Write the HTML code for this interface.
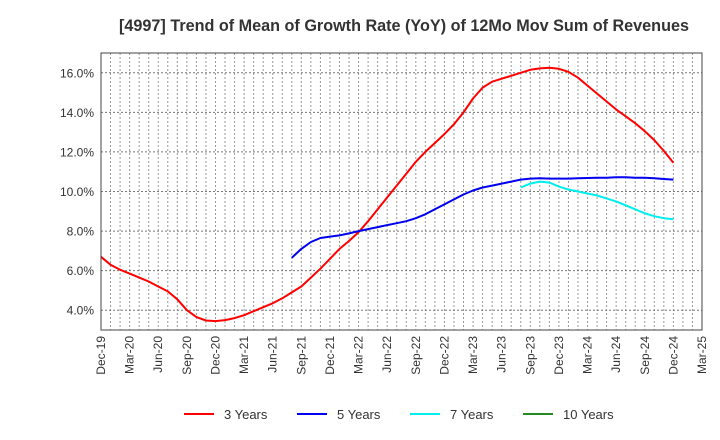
<!DOCTYPE html>
<html><head><meta charset="utf-8"><style>
body{margin:0;background:#fff;}
svg{display:block;font-family:"Liberation Sans",sans-serif;}
</style></head><body>
<svg id="chart" width="720" height="440" xmlns="http://www.w3.org/2000/svg">
<text x="404" y="31" text-anchor="middle" font-size="16.2" font-weight="bold" fill="#333">[4997]  Trend of Mean of Growth Rate (YoY) of 12Mo Mov Sum of Revenues</text>
<g id="grid"></g>
<g id="yaxis"></g>
<g id="xaxis"></g>
<g id="series"></g>
<rect x="101" y="53" width="601" height="277" fill="none" stroke="#444" stroke-width="1"/>
<g id="legend"></g>
</svg>
<script>
const xTickLabels = ["Dec-19","Mar-20","Jun-20","Sep-20","Dec-20","Mar-21","Jun-21","Sep-21","Dec-21","Mar-22","Jun-22","Sep-22","Dec-22","Mar-23","Jun-23","Sep-23","Dec-23","Mar-24","Jun-24","Sep-24","Dec-24","Mar-25"];
const yTicks = [4,6,8,10,12,14,16];
const red3 = [6.7,6.3,6.05,5.85,5.65,5.45,5.2,4.95,4.55,4.0,3.65,3.48,3.45,3.5,3.6,3.75,3.95,4.15,4.35,4.6,4.9,5.2,5.65,6.1,6.6,7.1,7.5,7.95,8.5,9.1,9.7,10.3,10.9,11.5,12.0,12.45,12.9,13.4,14.0,14.7,15.25,15.55,15.7,15.85,16.0,16.15,16.22,16.25,16.2,16.05,15.75,15.35,14.95,14.55,14.15,13.8,13.45,13.05,12.6,12.05,11.45];
const blue5Start = 20;
const blue5 = [6.65,7.1,7.45,7.65,7.72,7.78,7.88,8.0,8.1,8.2,8.3,8.4,8.5,8.65,8.85,9.1,9.35,9.6,9.85,10.05,10.2,10.3,10.4,10.5,10.6,10.65,10.67,10.65,10.65,10.65,10.67,10.68,10.7,10.7,10.72,10.72,10.7,10.7,10.67,10.63,10.6];
const cyan7Start = 44;
const cyan7 = [10.2,10.4,10.5,10.45,10.25,10.1,10.0,9.9,9.8,9.65,9.5,9.3,9.1,8.9,8.75,8.65,8.6];
const green10 = [];

const NS="http://www.w3.org/2000/svg";
const L=101,R=702,T=53,B=330,YMIN=3,YMAX=17,NM=63;
const xs=i=>L+(R-L)*i/NM;
const ys=v=>B-(v-YMIN)/(YMAX-YMIN)*(B-T);
function mk(tag,attrs,parent){const e=document.createElementNS(NS,tag);for(const k in attrs)e.setAttribute(k,attrs[k]);parent.appendChild(e);return e;}
const grid=document.getElementById('grid');
for(let i=1;i<NM;i++){const l=mk('line',{x1:xs(i),x2:xs(i),y1:T,y2:B,stroke:'#999','stroke-dasharray':'2,2','stroke-width':1},grid);

}
const ya=document.getElementById('yaxis');
yTicks.forEach(v=>{const l=mk('line',{x1:L,x2:R,y1:ys(v),y2:ys(v),stroke:'#777','stroke-dasharray':'2,2','stroke-width':1},grid);


const t=mk('text',{x:L-7,y:ys(v)+4.5,'text-anchor':'end','font-size':12,fill:'#333'},ya);t.textContent=v.toFixed(1)+'%';

});
const xa=document.getElementById('xaxis');
xTickLabels.forEach((s,k)=>{const x=xs(k*3);const t=mk('text',{x:0,y:0,transform:`translate(${x+4},${B+6}) rotate(-90)`,'text-anchor':'end','font-size':12,fill:'#333'},xa);t.textContent=s;

});
const sg=document.getElementById('series');
function line(data,start,color,name){const pts=data.map((v,i)=>xs(start+i).toFixed(1)+','+ys(v).toFixed(1)).join(' ');
const p=mk('polyline',{points:pts,fill:'none',stroke:color,'stroke-width':2,'stroke-linejoin':'round'},sg);

}
line(red3,0,'#ff0000','line-3-years');
line(blue5,blue5Start,'#0000ee','line-5-years');
line(cyan7,cyan7Start,'#00eeee','line-7-years');
if(green10.length)line(green10,0,'#228b22','line-10-years');
const lg=document.getElementById('legend');
[['3 Years','#ff0000',184],['5 Years','#0000ee',297],['7 Years','#00eeee',410],['10 Years','#228b22',523]].forEach(([s,c,x])=>{
const l=mk('line',{x1:x,x2:x+30,y1:414,y2:414,stroke:c,'stroke-width':2},lg);


const t=mk('text',{x:x+40,y:419,'font-size':13,fill:'#333'},lg);t.textContent=s;

});
</script>
</body></html>
